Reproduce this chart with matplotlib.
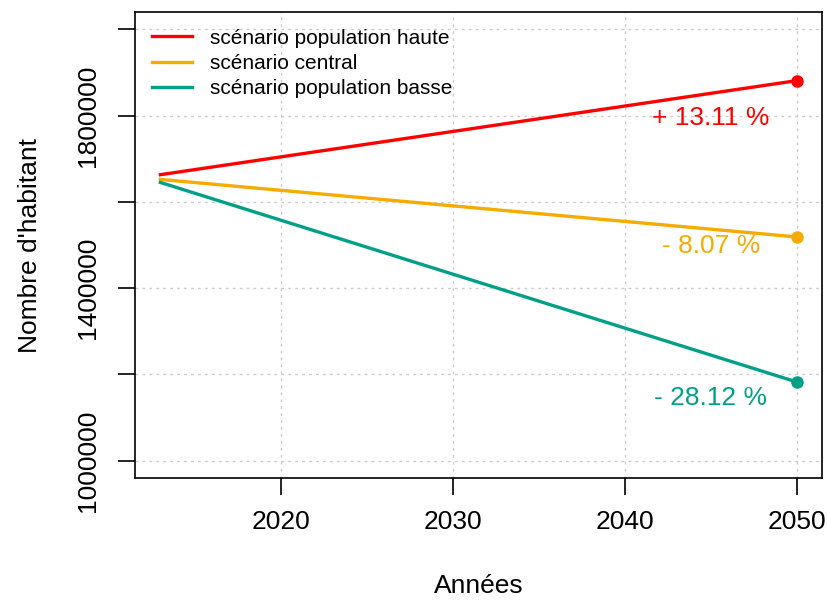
import matplotlib
matplotlib.use("Agg")
import matplotlib.pyplot as plt

plt.rcParams['font.family'] = ['Liberation Sans', 'DejaVu Sans']

# data
years = [2013, 2050]
haute = [1663000, 1881000]
central = [1652000, 1518700]
basse = [1645000, 1182500]
labels = ["scénario population haute", "scénario central", "scénario population basse"]
colors = ["#FF0000", "#F5AB00", "#00A088"]
pct_text = ["+ 13.11 %", "- 8.07 %", "- 28.12 %"]
pct_pos = [(2045.0, 1795000), (2045.0, 1497000), (2045.0, 1146000)]

yticks = [1000000, 1200000, 1400000, 1600000, 1800000, 2000000]
ytick_labels = ["1000000", "", "1400000", "", "1800000", ""]
xticks = [2020, 2030, 2040, 2050]

fig = plt.figure(figsize=(8.28, 6.02), dpi=100)
ax = fig.add_axes([0.163, 0.206, 0.830, 0.774])

for series, lab, col in zip([haute, central, basse], labels, colors):
    ax.plot(years, series, color=col, linewidth=2.4, label=lab)
    ax.plot(years[-1], series[-1], 'o', color=col, markersize=8)

for txt, (x, y), col in zip(pct_text, pct_pos, colors):
    ax.text(x, y, txt, color=col, fontsize=19, ha='center', va='center')

# R-like 4% expansion
ax.set_xlim(2013 - 1.48, 2050 + 1.48)
ax.set_ylim(960000, 2040000)

ax.set_xticks(xticks)
ax.set_yticks(yticks)
ax.set_yticklabels(ytick_labels, rotation=90, va='center')
ax.tick_params(axis='both', labelsize=19, length=12, width=1.2, direction='out')
ax.tick_params(axis='x', pad=11)
ax.tick_params(axis='y', pad=13)
ax.grid(True, color='#cccccc', linestyle=(0, (2, 3)), linewidth=1)
ax.set_axisbelow(True)
for sp in ax.spines.values():
    sp.set_linewidth(1.2)

ax.set_xlabel("Années", fontsize=19, va='center')
ax.xaxis.set_label_coords(0.5, -0.232)
ax.set_ylabel("Nombre d'habitant", fontsize=19, va='center')
ax.yaxis.set_label_coords(-0.153, 0.5)

ax.legend(loc='upper left', frameon=False, fontsize=15, handlelength=1.95,
          handletextpad=0.85, labelspacing=0.3, borderaxespad=0.4,
          bbox_to_anchor=(0.0, 1.0))

fig.savefig("out.png", dpi=100)
